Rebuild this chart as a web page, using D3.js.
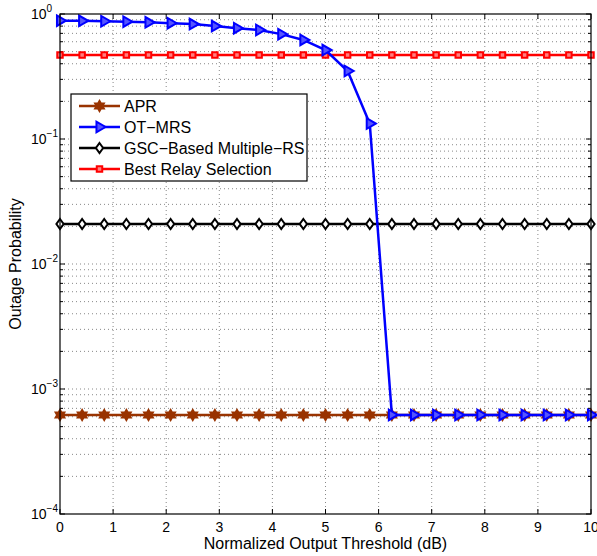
<!DOCTYPE html>
<html>
<head>
<meta charset="utf-8">
<script src="https://cdn.jsdelivr.net/npm/d3@7"></script>
<style>
  body { margin: 0; background: #fff; }
  svg text { font-family: "Liberation Sans", Arial, sans-serif; fill: #000; }
</style>
</head>
<body>
<div id="chart"></div>
<script>
// threshold values (dB), 25 points between 0 and 10
var thresholds = [0, 0.4167, 0.8333, 1.25, 1.6667, 2.0833, 2.5, 2.9167, 3.3333, 3.75, 4.1667, 4.5833, 5,
                  5.4167, 5.8333, 6.25, 6.6667, 7.0833, 7.5, 7.9167, 8.3333, 8.75, 9.1667, 9.5833, 10];

var aprVals = [6.2e-4, 6.2e-4, 6.2e-4, 6.2e-4, 6.2e-4, 6.2e-4, 6.2e-4, 6.2e-4, 6.2e-4, 6.2e-4, 6.2e-4, 6.2e-4, 6.2e-4,
               6.2e-4, 6.2e-4, 6.2e-4, 6.2e-4, 6.2e-4, 6.2e-4, 6.2e-4, 6.2e-4, 6.2e-4, 6.2e-4, 6.2e-4, 6.2e-4];
var otmrsVals = [0.885, 0.882, 0.875, 0.868, 0.858, 0.845, 0.83, 0.80, 0.77, 0.745, 0.69, 0.62, 0.515,
                 0.35, 0.133, 6.2e-4, 6.2e-4, 6.2e-4, 6.2e-4, 6.2e-4, 6.2e-4, 6.2e-4, 6.2e-4, 6.2e-4, 6.2e-4];
var gscVals = [0.0209, 0.0209, 0.0209, 0.0209, 0.0209, 0.0209, 0.0209, 0.0209, 0.0209, 0.0209, 0.0209, 0.0209, 0.0209,
               0.0209, 0.0209, 0.0209, 0.0209, 0.0209, 0.0209, 0.0209, 0.0209, 0.0209, 0.0209, 0.0209, 0.0209];
var bestVals = [0.47, 0.47, 0.47, 0.47, 0.47, 0.47, 0.47, 0.47, 0.47, 0.47, 0.47, 0.47, 0.47,
                0.47, 0.47, 0.47, 0.47, 0.47, 0.47, 0.47, 0.47, 0.47, 0.47, 0.47, 0.47];

var seriesNames = ["APR", "OT\u2212MRS", "GSC\u2212Based Multiple\u2212RS", "Best Relay Selection"];
var xTicks = [0, 1, 2, 3, 4, 5, 6, 7, 8, 9, 10];
var yDecades = [-4, -3, -2, -1, 0];

var width = 597, height = 556;
var margin = {top: 14, right: 6, bottom: 42, left: 60};
var plotW = width - margin.left - margin.right,
    plotH = height - margin.top - margin.bottom;

var svg = d3.select("#chart").append("svg")
  .attr("width", width)
  .attr("height", height);

var x = d3.scaleLinear().domain([0, 10]).range([margin.left, margin.left + plotW]);
var y = d3.scaleLog().domain([1e-4, 1]).range([margin.top + plotH, margin.top]);

// minor log ticks
var minorY = [];
yDecades.slice(0, -1).forEach(function(d){
  for (var k = 2; k <= 9; k++) minorY.push(k * Math.pow(10, d));
});
var majorY = yDecades.map(function(d){ return Math.pow(10, d); });

// grid
var grid = svg.append("g").attr("class", "grid");
grid.selectAll("line.vx")
  .data(xTicks.slice(1, -1))
  .enter().append("line")
  .attr("x1", function(d){ return x(d); })
  .attr("x2", function(d){ return x(d); })
  .attr("y1", margin.top).attr("y2", margin.top + plotH)
  .attr("stroke", "#555").attr("stroke-width", 0.7)
  .attr("stroke-dasharray", "1,3");
grid.selectAll("line.hy")
  .data(minorY.concat(majorY.slice(1, -1)))
  .enter().append("line")
  .attr("x1", margin.left).attr("x2", margin.left + plotW)
  .attr("y1", function(d){ return y(d); })
  .attr("y2", function(d){ return y(d); })
  .attr("stroke", "#555").attr("stroke-width", 0.7)
  .attr("stroke-dasharray", "1,3");

// ticks (inside, all four sides)
var tk = svg.append("g").attr("stroke", "#000").attr("stroke-width", 1);
xTicks.forEach(function(d){
  tk.append("line").attr("x1", x(d)).attr("x2", x(d)).attr("y1", margin.top + plotH).attr("y2", margin.top + plotH - 5);
  tk.append("line").attr("x1", x(d)).attr("x2", x(d)).attr("y1", margin.top).attr("y2", margin.top + 5);
});
majorY.forEach(function(d){
  tk.append("line").attr("x1", margin.left).attr("x2", margin.left + 5).attr("y1", y(d)).attr("y2", y(d));
  tk.append("line").attr("x1", margin.left + plotW).attr("x2", margin.left + plotW - 5).attr("y1", y(d)).attr("y2", y(d));
});
minorY.forEach(function(d){
  tk.append("line").attr("x1", margin.left).attr("x2", margin.left + 3).attr("y1", y(d)).attr("y2", y(d));
  tk.append("line").attr("x1", margin.left + plotW).attr("x2", margin.left + plotW - 3).attr("y1", y(d)).attr("y2", y(d));
});

// tick labels
svg.append("g").selectAll("text")
  .data(xTicks).enter().append("text")
  .attr("x", function(d){ return x(d); })
  .attr("y", margin.top + plotH + 18)
  .attr("text-anchor", "middle")
  .style("font-size", "14px")
  .text(function(d){ return d; });

var yl = svg.append("g").selectAll("text")
  .data(yDecades).enter().append("text")
  .attr("x", 31)
  .attr("y", function(d){ return y(Math.pow(10, d)) + 5; })
  .attr("text-anchor", "start")
  .style("font-size", "14px");
yl.text("10");
yl.append("tspan")
  .attr("dy", -7)
  .style("font-size", "10px")
  .text(function(d){ return d === 0 ? "0" : "\u2212" + (-d); });

// axis titles
svg.append("text")
  .attr("x", margin.left + plotW / 2)
  .attr("y", 549)
  .attr("text-anchor", "middle")
  .style("font-size", "16px")
  .text("Normalized Output Threshold (dB)");
svg.append("text")
  .attr("transform", "translate(21," + (margin.top + plotH / 2) + ") rotate(-90)")
  .attr("text-anchor", "middle")
  .style("font-size", "16px")
  .text("Outage Probability");

// marker shapes
var hexagram = function(r){
  var pts = [];
  for (var i = 0; i < 12; i++) {
    var a = Math.PI / 6 * i - Math.PI / 2;
    var rr = (i % 2 === 0) ? r : r * 0.58;
    pts.push([rr * Math.cos(a), rr * Math.sin(a)]);
  }
  return "M" + pts.map(function(p){ return p.join(","); }).join("L") + "Z";
};
var markerDefs = {
  hexagram: { path: hexagram(5), rot: 0 },
  triangle: { path: d3.symbol().type(d3.symbolTriangle).size(48)(), rot: 90 },
  diamond: { path: "M0,-5L3.6,0L0,5L-3.6,0Z", rot: 0 },
  square: { path: d3.symbol().type(d3.symbolSquare).size(30)(), rot: 0 }
};

var series = [
  { name: seriesNames[0], vals: aprVals, color: "#993300", marker: "hexagram", fill: "#993300" },
  { name: seriesNames[1], vals: otmrsVals, color: "#0000ff", marker: "triangle", fill: "#5555ff" },
  { name: seriesNames[2], vals: gscVals, color: "#000000", marker: "diamond", fill: "#fff" },
  { name: seriesNames[3], vals: bestVals, color: "#ff0000", marker: "square", fill: "#ff8080" }
];

var line = d3.line()
  .x(function(d){ return x(d[0]); })
  .y(function(d){ return y(d[1]); });

var plotG = svg.append("g");
// draw order so blue ends on top of brown, matching reference
[3, 2, 0, 1].forEach(function(i){
  var s = series[i];
  var pts = thresholds.map(function(t, j){ return [t, s.vals[j]]; });
  var g = plotG.append("g");
  g.append("path")
    .datum(pts)
    .attr("fill", "none")
    .attr("stroke", s.color)
    .attr("stroke-width", 2.5)
    .attr("d", line);
  g.selectAll("path.mk")
    .data(pts).enter().append("path")
    .attr("class", "mk")
    .attr("d", markerDefs[s.marker].path)
    .attr("transform", function(d){ return "translate(" + x(d[0]) + "," + y(d[1]) + ") rotate(" + markerDefs[s.marker].rot + ")"; })
    .attr("fill", s.fill)
    .attr("stroke", s.color)
    .attr("stroke-width", 2);
});

// frame
svg.append("rect")
  .attr("x", margin.left).attr("y", margin.top)
  .attr("width", plotW).attr("height", plotH)
  .attr("fill", "none").attr("stroke", "#000").attr("stroke-width", 1.2);

// legend
var lg = svg.append("g").attr("transform", "translate(71,94)");
lg.append("rect")
  .attr("width", 236).attr("height", 87)
  .attr("fill", "#fff").attr("stroke", "#000").attr("stroke-width", 1.2);
series.forEach(function(s, i){
  var yy = 12 + i * 21;
  lg.append("line")
    .attr("x1", 8).attr("x2", 49).attr("y1", yy).attr("y2", yy)
    .attr("stroke", s.color).attr("stroke-width", 2.5);
  lg.append("path")
    .attr("d", markerDefs[s.marker].path)
    .attr("transform", "translate(28.5," + yy + ") rotate(" + markerDefs[s.marker].rot + ")")
    .attr("fill", s.fill).attr("stroke", s.color).attr("stroke-width", 2);
  lg.append("text")
    .attr("x", 53).attr("y", yy + 5.5)
    .style("font-size", "16px")
    .text(s.name);
});
</script>
</body>
</html>
